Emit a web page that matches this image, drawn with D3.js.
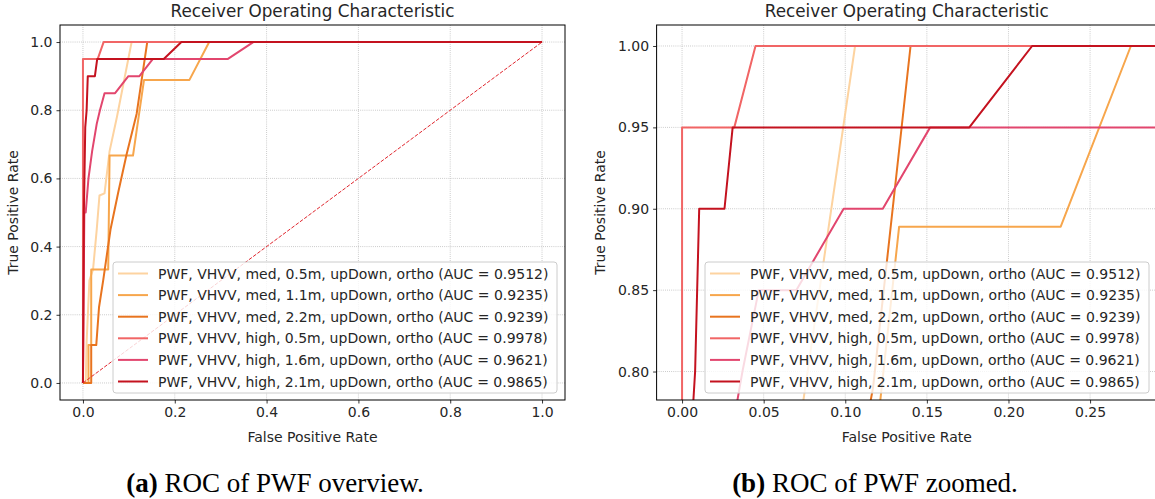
<!DOCTYPE html>
<html>
<head>
<meta charset="utf-8">
<script src="https://cdn.jsdelivr.net/npm/d3@7"></script>
<style>
  body { margin: 0; background: #fff; }
  svg text { font-family: "DejaVu Sans", sans-serif; fill: #262626; }
</style>
</head>
<body>
<svg id="fig" width="1155" height="499"></svg>
<script>
// ROC points (fpr, tpr)
var fprMed05  = [0, 0.006, 0.008, 0.014, 0.022, 0.03, 0.036, 0.047, 0.058, 0.074, 0.106, 1];
var tprMed05  = [0, 0, 0.12, 0.3, 0.333, 0.45, 0.55, 0.556, 0.68, 0.78, 1, 1];
var fprMed11  = [0, 0.012, 0.012, 0.018, 0.018, 0.055, 0.058, 0.109, 0.133, 0.232, 0.275, 1];
var tprMed11  = [0, 0, 0.111, 0.111, 0.333, 0.333, 0.667, 0.667, 0.889, 0.889, 1, 1];
var fprMed22  = [0, 0.018, 0.018, 0.029, 0.035, 0.044, 0.06, 0.077, 0.095, 0.117, 0.14, 1];
var tprMed22  = [0, 0, 0.111, 0.111, 0.222, 0.3, 0.45, 0.56, 0.67, 0.79, 1, 1];
var fprHigh05 = [0, 0, 0.032, 0.045, 1];
var tprHigh05 = [0, 0.95, 0.95, 1, 1];
var fprHigh16 = [0, 0.003, 0.006, 0.012, 0.02, 0.03, 0.037, 0.047, 0.07, 0.099, 0.123, 0.152, 0.315, 0.371, 1];
var tprHigh16 = [0, 0.5, 0.5, 0.6, 0.68, 0.76, 0.8, 0.85, 0.85, 0.9, 0.9, 0.95, 0.95, 1, 1];
var fprHigh21 = [0, 0.002, 0.005, 0.008, 0.0105, 0.026, 0.031, 0.176, 0.2145, 1];
var tprHigh21 = [0, 0.5, 0.75, 0.8, 0.9, 0.9, 0.95, 0.95, 1, 1];

var seriesNames = [
  "PWF, VHVV, med, 0.5m, upDown, ortho (AUC = 0.9512)",
  "PWF, VHVV, med, 1.1m, upDown, ortho (AUC = 0.9235)",
  "PWF, VHVV, med, 2.2m, upDown, ortho (AUC = 0.9239)",
  "PWF, VHVV, high, 0.5m, upDown, ortho (AUC = 0.9978)",
  "PWF, VHVV, high, 1.6m, upDown, ortho (AUC = 0.9621)",
  "PWF, VHVV, high, 2.1m, upDown, ortho (AUC = 0.9865)"
];
var seriesColors = ["#fdd3a0", "#f7a64c", "#e8741f", "#f16565", "#e2466e", "#c4121f"];

var overviewTicks = [0, 0.2, 0.4, 0.6, 0.8, 1.0];
var zoomTicksX = [0, 0.05, 0.10, 0.15, 0.20, 0.25];
var zoomTicksY = [0.80, 0.85, 0.90, 0.95, 1.00];
var chanceLine = [0, 1];

var series = seriesNames.map(function(name, i) {
  var fpr = [fprMed05, fprMed11, fprMed22, fprHigh05, fprHigh16, fprHigh21][i];
  var tpr = [tprMed05, tprMed11, tprMed22, tprHigh05, tprHigh16, tprHigh21][i];
  return { name: name, color: seriesColors[i], pts: fpr.map(function(f, j) { return [f, tpr[j]]; }) };
});

var svg = d3.select("#fig");

function panel(id, box, xdom, ydom, xticks, yticks, fmt) {
  var x = d3.scaleLinear().domain(xdom).range([box.x0, box.x1]);
  var y = d3.scaleLinear().domain(ydom).range([box.y1, box.y0]);
  var g = svg.append("g");

  g.append("clipPath").attr("id", id)
    .append("rect").attr("x", box.x0).attr("y", box.y0)
    .attr("width", box.x1 - box.x0).attr("height", box.y1 - box.y0);

  // dotted grid
  g.selectAll(".gx").data(xticks).enter().append("line")
    .attr("x1", function(d) { return x(d); }).attr("x2", function(d) { return x(d); })
    .attr("y1", box.y0).attr("y2", box.y1)
    .attr("stroke", "#b0b0b0").attr("stroke-width", 0.8).attr("stroke-dasharray", "0.8,1.3");
  g.selectAll(".gy").data(yticks).enter().append("line")
    .attr("y1", function(d) { return y(d); }).attr("y2", function(d) { return y(d); })
    .attr("x1", box.x0).attr("x2", box.x1)
    .attr("stroke", "#b0b0b0").attr("stroke-width", 0.8).attr("stroke-dasharray", "0.8,1.3");

  var plot = g.append("g").attr("clip-path", "url(#" + id + ")");
  var line = d3.line().x(function(d) { return x(d[0]); }).y(function(d) { return y(d[1]); });

  plot.selectAll(".roc").data(series).enter().append("path")
    .attr("d", function(d) { return line(d.pts); })
    .attr("fill", "none").attr("stroke", function(d) { return d.color; })
    .attr("stroke-width", 2).attr("stroke-linejoin", "round");

  plot.append("path")
    .attr("d", line(chanceLine.map(function(v) { return [v, v]; })))
    .attr("fill", "none").attr("stroke", "#e0262e").attr("stroke-width", 1)
    .attr("stroke-dasharray", "3.7,1.6");

  // axes
  var xa = g.append("g").attr("transform", "translate(0," + box.y1 + ")")
    .call(d3.axisBottom(x).tickValues(xticks).tickFormat(d3.format(fmt.x)).tickSize(3.5).tickPadding(4));
  var ya = g.append("g").attr("transform", "translate(" + box.x0 + ",0)")
    .call(d3.axisLeft(y).tickValues(yticks).tickFormat(d3.format(fmt.y)).tickSize(3.5).tickPadding(4));
  [xa, ya].forEach(function(a) {
    a.select(".domain").remove();
    a.selectAll("text").attr("font-size", 14).attr("font-family", "DejaVu Sans").attr("fill", "#262626");
    a.selectAll("line").attr("stroke", "#000").attr("stroke-width", 0.8);
  });

  g.append("rect").attr("x", box.x0).attr("y", box.y0)
    .attr("width", box.x1 - box.x0).attr("height", box.y1 - box.y0)
    .attr("fill", "none").attr("stroke", "#000").attr("stroke-width", 1);

  var cx = (box.x0 + box.x1) / 2;
  g.append("text").attr("x", cx).attr("y", box.y0 - 8).attr("text-anchor", "middle")
    .attr("font-size", 16.8).text("Receiver Operating Characteristic");
  g.append("text").attr("x", cx).attr("y", box.y1 + 42).attr("text-anchor", "middle")
    .attr("font-size", 14).text("False Positive Rate");
  g.append("text").attr("transform", "translate(" + box.ylab + "," + ((box.y0 + box.y1) / 2) + ") rotate(-90)")
    .attr("text-anchor", "middle").attr("font-size", 14).text("True Positive Rate");

  // legend, lower right
  var lw = 444, lh = 131;
  var lx = box.x1 - 8 - lw, ly = box.y1 - 7 - lh;
  var leg = g.append("g");
  leg.append("rect").attr("x", lx).attr("y", ly).attr("width", lw).attr("height", lh)
    .attr("rx", 3).attr("fill", "#fff").attr("fill-opacity", 0.8)
    .attr("stroke", "#cccccc").attr("stroke-width", 1);
  var rows = leg.selectAll(".row").data(series).enter().append("g")
    .attr("transform", function(d, i) { return "translate(" + lx + "," + (ly + 11.5 + i * 21.6) + ")"; });
  rows.append("line").attr("x1", 5).attr("x2", 35).attr("y1", 0).attr("y2", 0)
    .attr("stroke", function(d) { return d.color; }).attr("stroke-width", 2);
  rows.append("text").attr("x", 45).attr("y", 0).attr("dy", "0.36em")
    .attr("font-size", 14).text(function(d) { return d.name; });
}

panel("clipA", { x0: 60, x1: 565, y0: 25, y1: 400, ylab: 18 },
  [-0.05, 1.05], [-0.05, 1.05], overviewTicks, overviewTicks, { x: ".1f", y: ".1f" });
panel("clipB", { x0: 656.6, x1: 1157, y0: 25, y1: 400, ylab: 605 },
  [-0.0156, 0.291], [0.7825, 1.0129], zoomTicksX, zoomTicksY, { x: ".2f", y: ".2f" });

// sub-captions
var captions = [
  { x: 275, bold: "(a)", rest: " ROC of PWF overview." },
  { x: 875, bold: "(b)", rest: " ROC of PWF zoomed." }
];
captions.forEach(function(c) {
  var t = svg.append("text").attr("x", c.x).attr("y", 492).attr("text-anchor", "middle")
    .style("font-family", "'Liberation Serif', serif").style("font-size", "27px").style("fill", "#000");
  t.append("tspan").attr("font-weight", "bold").text(c.bold);
  t.append("tspan").text(c.rest);
});
</script>
</body>
</html>
